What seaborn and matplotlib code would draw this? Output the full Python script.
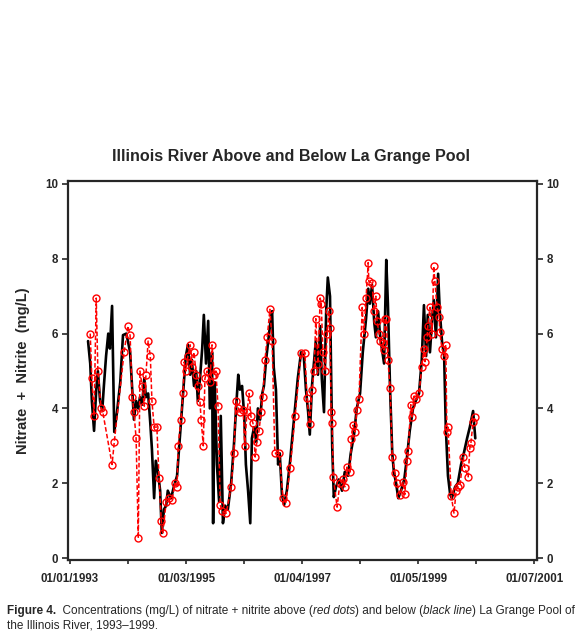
import numpy as np
import pandas as pd
import seaborn as sns
import matplotlib.pyplot as plt
from matplotlib.ticker import AutoMinorLocator

# above La Grange Pool (red dots) -- decimal year, mg/L
above_year = [
    1993.37, 1993.40, 1993.44, 1993.48, 1993.51, 1993.57, 1993.60, 1993.77, 1993.81, 1993.99,
    1994.06, 1994.10, 1994.14, 1994.17, 1994.21, 1994.25, 1994.28, 1994.32, 1994.36, 1994.39,
    1994.43, 1994.47, 1994.50, 1994.54, 1994.59, 1994.63, 1994.67, 1994.70, 1994.76, 1994.81,
    1994.87, 1994.92, 1994.96, 1994.98, 1995.03, 1995.07, 1995.09, 1995.12, 1995.16, 1995.20,
    1995.23, 1995.27, 1995.31, 1995.34, 1995.38, 1995.40, 1995.44, 1995.47, 1995.51, 1995.56,
    1995.60, 1995.64, 1995.67, 1995.71, 1995.75, 1995.78, 1995.86, 1995.95, 1996.00, 1996.04,
    1996.08, 1996.11, 1996.17, 1996.20, 1996.24, 1996.28, 1996.31, 1996.35, 1996.39, 1996.42,
    1996.46, 1996.50, 1996.53, 1996.57, 1996.61, 1996.66, 1996.70, 1996.75, 1996.83, 1996.90,
    1996.95, 1997.03, 1997.12, 1997.23, 1997.30, 1997.34, 1997.39, 1997.43, 1997.47, 1997.50,
    1997.54, 1997.58, 1997.60, 1997.63, 1997.67, 1997.71, 1997.74, 1997.76, 1997.78, 1997.80,
    1997.82, 1997.89, 1997.94, 1998.00, 1998.03, 1998.07, 1998.13, 1998.15, 1998.18, 1998.22,
    1998.25, 1998.29, 1998.35, 1998.38, 1998.42, 1998.46, 1998.47, 1998.53, 1998.57, 1998.60,
    1998.62, 1998.66, 1998.68, 1998.73, 1998.75, 1998.77, 1998.79, 1998.82, 1998.86, 1998.90,
    1998.95, 1998.99, 1999.04, 1999.10, 1999.13, 1999.17, 1999.19, 1999.24, 1999.26, 1999.30,
    1999.33, 1999.39, 1999.44, 1999.48, 1999.50, 1999.54, 1999.55, 1999.59, 1999.63, 1999.66,
    1999.68, 1999.72, 1999.76, 1999.77, 1999.81, 1999.85, 1999.88, 1999.90, 1999.92, 1999.98,
    2000.03, 2000.07, 2000.10, 2000.14, 2000.20, 2000.23, 2000.29, 2000.32, 2000.34, 2000.38,
    2000.42,
]
above_conc = [
    6.0, 4.8, 3.8, 6.95, 5.0, 4.0, 3.9, 2.5, 3.1, 5.5,
    6.2, 5.95, 4.3, 3.9, 3.2, 0.53, 5.0, 4.6, 4.06, 4.9,
    5.8, 5.4, 4.2, 3.5, 3.5, 2.14, 1.0, 0.67, 1.5, 1.6,
    1.55, 2.0, 1.9, 3.0, 3.7, 4.4, 5.24, 5.0, 5.4, 5.7,
    5.1, 5.5, 4.9, 4.6, 4.17, 3.7, 3.0, 4.8, 5.0, 4.7,
    5.7, 4.9, 5.0, 4.06, 1.42, 1.25, 1.2, 1.9, 2.8, 4.2,
    4.0, 3.9, 3.95, 3.0, 3.9, 4.4, 3.8, 3.6, 2.7, 3.1,
    3.4, 3.9, 4.3, 5.3, 5.9, 6.65, 5.8, 2.8, 2.8, 1.6,
    1.47, 2.4, 3.8, 5.48, 5.48, 4.27, 3.58, 4.5, 5.0, 6.4,
    5.2, 6.95, 6.8, 5.5, 5.0, 6.0, 6.6, 6.15, 3.9, 3.6,
    2.17, 1.36, 2.0, 2.1, 1.9, 2.43, 2.3, 3.18, 3.55, 3.37,
    3.96, 4.25, 6.7, 6.0, 6.95, 7.9, 7.4, 7.35, 6.6, 7.0,
    6.34, 6.0, 5.8, 5.75, 5.56, 6.4, 6.4, 5.3, 4.55, 2.7,
    2.27, 2.0, 1.68, 2.03, 1.7, 2.6, 2.86, 4.1, 3.77, 4.33,
    4.25, 4.4, 5.1, 5.6, 5.25, 5.9, 6.2, 6.7, 6.0, 7.8,
    7.4, 6.7, 6.45, 6.04, 5.6, 5.4, 5.7, 3.37, 3.5, 1.66,
    1.2, 1.8, 1.9, 1.95, 2.7, 2.4, 2.17, 2.94, 3.08, 3.64,
    3.77,
]

# below La Grange Pool (black line)
below_year = [
    1993.33, 1993.37, 1993.40, 1993.44, 1993.48, 1993.51, 1993.55, 1993.59, 1993.62, 1993.66,
    1993.70, 1993.73, 1993.77, 1993.81, 1993.86, 1993.92, 1993.97, 1994.03, 1994.06, 1994.10,
    1994.14, 1994.17, 1994.21, 1994.25, 1994.28, 1994.32, 1994.36, 1994.39, 1994.43, 1994.47,
    1994.50, 1994.54, 1994.57, 1994.61, 1994.65, 1994.68, 1994.72, 1994.76, 1994.79, 1994.85,
    1994.90, 1994.96, 1995.01, 1995.05, 1995.09, 1995.12, 1995.16, 1995.20, 1995.23, 1995.27,
    1995.31, 1995.34, 1995.38, 1995.42, 1995.45, 1995.49, 1995.53, 1995.56, 1995.60, 1995.62,
    1995.65, 1995.69, 1995.73, 1995.76, 1995.80, 1995.84, 1995.89, 1995.95, 1996.00, 1996.04,
    1996.08, 1996.11, 1996.15, 1996.19, 1996.22, 1996.26, 1996.30, 1996.33, 1996.37, 1996.41,
    1996.44, 1996.48, 1996.52, 1996.55, 1996.59, 1996.63, 1996.66, 1996.70, 1996.73, 1996.77,
    1996.81, 1996.84, 1996.88, 1996.92, 1996.97, 1997.03, 1997.10, 1997.17, 1997.23, 1997.28,
    1997.32, 1997.36, 1997.39, 1997.43, 1997.47, 1997.50, 1997.54, 1997.58, 1997.61, 1997.65,
    1997.69, 1997.72, 1997.76, 1997.80, 1997.83, 1997.87, 1997.92, 1997.98, 1998.03, 1998.09,
    1998.14, 1998.20, 1998.25, 1998.31, 1998.36, 1998.42, 1998.46, 1998.49, 1998.53, 1998.57,
    1998.60, 1998.64, 1998.68, 1998.71, 1998.75, 1998.79, 1998.82, 1998.86, 1998.90, 1998.93,
    1998.97, 1999.01, 1999.06, 1999.12, 1999.17, 1999.22, 1999.28, 1999.33, 1999.39, 1999.44,
    1999.48, 1999.52, 1999.55, 1999.59, 1999.63, 1999.66, 1999.70, 1999.74, 1999.77, 1999.81,
    1999.85, 1999.88, 1999.92, 1999.96, 1999.99, 2000.05, 2000.10, 2000.16, 2000.21, 2000.27,
    2000.32, 2000.38, 2000.42,
]
below_conc = [
    5.8, 5.2, 4.2, 3.4, 4.5, 5.0, 4.2, 3.95, 4.6, 5.4,
    6.0, 5.6, 6.74, 3.37, 3.9, 4.7, 5.96, 6.0, 5.8, 5.5,
    4.5, 3.7, 4.2, 4.0, 4.3, 4.1, 4.8, 4.3, 4.4, 3.6,
    2.9, 1.6, 2.6, 2.3, 1.8, 0.67, 1.3, 1.4, 1.8, 1.6,
    1.9, 2.2, 3.2, 4.0, 4.8, 5.4, 5.7, 4.9, 5.3, 4.6,
    5.0, 4.2, 4.8, 5.6, 6.5, 5.2, 6.34, 4.0, 5.5, 0.93,
    4.7, 2.5, 1.5, 3.8, 0.93, 1.4, 1.3, 2.0, 3.0, 4.0,
    4.9, 4.5, 4.6, 3.8, 2.5, 1.8, 0.93, 3.2, 3.5, 3.1,
    4.0, 3.7, 4.4, 4.6, 5.3, 5.8, 6.2, 6.6, 5.1, 4.5,
    2.5, 2.8, 1.7, 1.42, 1.8, 2.6, 3.7, 4.8, 5.5, 5.4,
    4.5, 3.9, 3.3, 4.6, 5.3, 5.8, 4.9, 6.2, 4.8, 3.9,
    6.6, 7.5, 7.0, 3.0, 1.63, 1.9, 2.1, 1.8, 2.3, 2.2,
    2.8, 3.3, 4.0, 4.4, 5.5, 6.4, 7.2, 6.8, 7.3, 6.3,
    5.9, 6.6, 5.9, 5.6, 5.2, 7.97, 6.8, 4.5, 2.8, 2.3,
    2.0, 1.6, 1.8, 2.1, 2.7, 3.4, 4.0, 4.2, 4.4, 5.3,
    6.76, 5.4, 6.5, 5.5, 6.4, 6.9, 5.9, 7.6, 6.6, 5.8,
    5.4, 3.5, 2.2, 1.7, 1.6, 1.9, 2.0, 2.5, 2.8, 3.2,
    3.5, 3.93, 3.2,
]

x_tick_labels = ["01/01/1993", "01/03/1995", "01/04/1997", "01/05/1999", "01/07/2001"]
y_ticks = [0, 2, 4, 6, 8, 10]

above = pd.DataFrame({"year": above_year, "conc": above_conc})
below = pd.DataFrame({"year": below_year, "conc": below_conc})

sns.set_style("ticks")
plt.rcParams["font.family"] = ["Liberation Sans", "DejaVu Sans"]

fig = plt.figure(figsize=(5.85, 6.37), dpi=100)
ax = fig.add_axes([68 / 585, 1 - 560 / 637, 469 / 585, 379 / 637])

sns.lineplot(data=below, x="year", y="conc", estimator=None, sort=False,
             color="black", lw=1.9, ax=ax)
sns.lineplot(data=above, x="year", y="conc", estimator=None, sort=False,
             color="red", lw=1.1, dashes=False, ax=ax,
             marker="o", markersize=5, markerfacecolor="none",
             markeredgecolor="red", markeredgewidth=1.0)
ax.lines[-1].set_linestyle((0, (3, 1.5)))

ax.set_xlim(1992.963, 2001.55)
ax.set_ylim(-0.053, 10.08)
ax.set_xticks(np.linspace(1993, 2001.5, 5))
ax.set_xticklabels(x_tick_labels)
ax.xaxis.set_minor_locator(AutoMinorLocator(2))
ax.set_yticks(y_ticks)
ax.set_yticklabels([str(v) for v in y_ticks])

ax.tick_params(axis="x", which="both", direction="out", length=3, width=1.2, pad=6)
ax.tick_params(axis="y", direction="out", length=4, width=1.2, pad=3,
               left=True, right=True, labelleft=True, labelright=True)
for lab in ax.get_xticklabels() + ax.get_yticklabels():
    lab.set_fontweight("bold")
    lab.set_fontsize(8.3)
for sp in ax.spines.values():
    sp.set_visible(True)
    sp.set_linewidth(1.6)

ax.set_xlabel("")
ax.set_ylabel("Nitrate  +  Nitrite  (mg/L)", fontsize=10.5, fontweight="bold")
ax.yaxis.set_label_coords(-0.081, 0.5)

fig.text(0.497, 1 - 157 / 637, "Illinois River Above and Below La Grange Pool",
         ha="center", va="center", fontsize=11.6, fontweight="bold")

# caption, pieced together so the styles can change mid line
renderer = fig.canvas.get_renderer()
line1 = [("Figure 4.", "normal", "bold"),
         ("  Concentrations (mg/L) of nitrate + nitrite above (", "normal", "normal"),
         ("red dots", "italic", "normal"),
         (") and below (", "normal", "normal"),
         ("black line", "italic", "normal"),
         (") La Grange Pool of", "normal", "normal")]
x = 7 / 585
y1 = 1 - 611 / 637
for s, style, weight in line1:
    t = fig.text(x, y1, s, ha="left", va="center", fontsize=8.5,
                 style=style, fontweight=weight)
    x = t.get_window_extent(renderer).x1 / fig.bbox.width
fig.text(7 / 585, 1 - 626 / 637, "the Illinois River, 1993\u20131999.",
         ha="left", va="center", fontsize=8.5)

fig.savefig("out.png", dpi=100)
plt.close(fig)
